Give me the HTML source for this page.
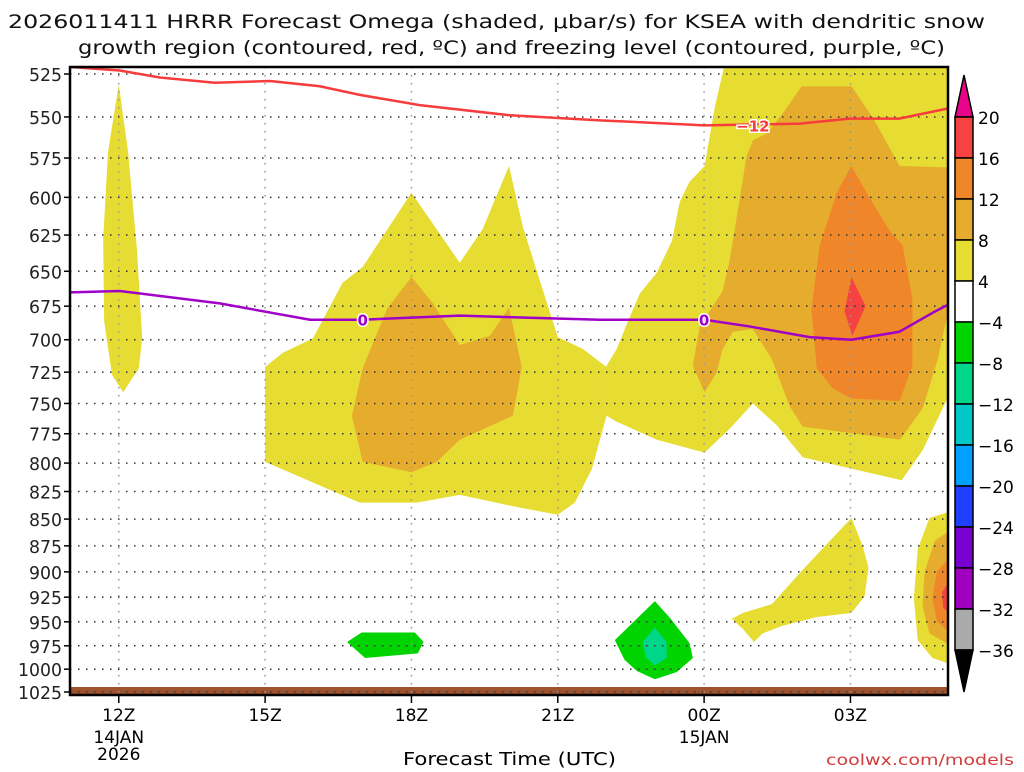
<!DOCTYPE html>
<html><head><meta charset="utf-8"><style>
body{margin:0;background:#fff;width:1024px;height:768px;overflow:hidden;font-family:"DejaVu Sans",sans-serif}
svg text{font-family:"DejaVu Sans","Liberation Sans",sans-serif}
</style></head><body>
<svg id="chart" width="1024" height="768" xmlns="http://www.w3.org/2000/svg">
<text x="8" y="28" font-size="19" textLength="977" lengthAdjust="spacingAndGlyphs" fill="#111">2026011411 HRRR Forecast Omega (shaded, μbar/s) for KSEA with dendritic snow</text>
<text x="78" y="54" font-size="19" textLength="867" lengthAdjust="spacingAndGlyphs" fill="#111">growth region (contoured, red, ºC) and freezing level (contoured, purple, ºC)</text>
<text x="403" y="765" font-size="18" textLength="213" lengthAdjust="spacingAndGlyphs">Forecast Time (UTC)</text>
<text x="826" y="765" font-size="15" fill="#d23c3c" textLength="188" lengthAdjust="spacingAndGlyphs">coolwx.com/models</text>
</svg>
<script>
const pTicks=[525,550,575,600,625,650,675,700,725,750,775,800,825,850,875,900,925,950,975,1000,1025];
const hTicks=[12,15,18,21,24,27];
const hLabels=["12Z","15Z","18Z","21Z","00Z","03Z"];
const cbLevels=["20","16","12","8","4","−4","−8","−12","−16","−20","−24","−28","−32","−36"];
const cbColors=["#f74242","#f0862a","#e5ac2d","#e6dc32","#ffffff","#00d400","#00d68a","#00c8c8","#00a0ff","#2040ff","#7800d0","#a000c0","#aaaaaa"];
const yellowAreas=[
 [[12.0,531],[12.19,571],[12.37,634],[12.48,699],[12.41,722],[12.09,741],[11.86,727],[11.70,686],[11.68,628],[11.78,571]],
 [[15.0,721],[15.36,710],[15.98,699],[16.59,658],[17.0,647],[18.0,597],[18.99,644],[19.46,621],[20.0,580],[20.28,619],[20.69,663],[21.0,698],[21.51,707],[22.0,721],[22.0,760],[21.7,805],[21.35,835],[21.0,846],[20.16,839],[18.99,828],[18.11,835],[16.94,835],[15.98,817],[15.0,799]],
 [[24.46,515],[29.2,515],[29,745],[28.48,789],[28.05,815],[27.04,805],[26.02,795],[25.49,768],[25.0,750],[24.52,771],[24.01,791],[23.03,780],[22.21,765],[22.0,760],[22.0,720],[22.21,707],[22.43,687],[22.68,666],[23.03,651],[23.34,629],[23.5,603],[23.7,590],[24.01,580],[24.22,544]],
 [[24.57,947],[24.79,941],[25.39,932],[26.02,898],[27.02,849],[27.25,875],[27.37,896],[27.29,924],[27.02,941],[26.31,945],[25.61,954],[25.2,962],[25.02,971],[24.79,957]],
 [[29.2,841],[28.62,849],[28.38,878],[28.30,926],[28.38,969],[28.68,988],[29.2,997]]
];
const orangeAreas=[
 [[18.0,654],[18.44,673],[18.99,704],[19.61,697],[20.0,676],[20.26,721],[20.08,760],[18.99,780],[18.52,799],[18.0,808],[17.0,799],[16.78,760],[17.0,722],[17.5,677]],
 [[26.0,532],[27.02,532],[27.45,550],[28.01,580],[29.2,581],[29.2,647],[28.79,715],[28.48,754],[28.01,780],[26.02,769],[25.75,752],[25.39,715],[25.0,692],[24.59,694],[24.38,707],[24.26,725],[24.01,741],[23.77,720],[23.91,690],[24.38,664],[24.52,643],[24.73,601],[24.87,574],[25.0,564],[25.28,560],[25.61,548]],
 [[29.2,856],[28.73,870],[28.52,900],[28.48,934],[28.62,962],[29.2,979]]
];
const darkOrangeAreas=[
 [[27.02,580],[27.33,597],[27.8,622],[28.07,632],[28.27,670],[28.27,720],[28.01,748],[27.02,746],[26.64,738],[26.31,722],[26.2,677],[26.37,632],[26.72,597]],
 [[29.2,877],[28.77,900],[28.68,926],[28.77,949],[29.2,969]]
];
const redAreas=[
 [[27.02,654],[27.31,675],[27.04,697],[26.88,679]],
 [[29.2,896],[28.88,920],[28.9,936],[29.2,946]]
];
const greenAreas=[
 [[22.17,969],[22.99,929],[23.3,946],[23.7,972],[23.77,988],[23.44,1003],[22.99,1011],[22.62,1002],[22.37,990]],
 [[16.68,971],[16.98,961],[18.07,961],[18.25,971],[18.13,983],[17.05,988]]
];
const tealAreas=[[[22.99,956],[23.23,971],[23.23,988],[22.99,996],[22.8,987],[22.74,971]]];
const dgzHours=[11,12.02,12.84,13.97,15.10,16.12,16.94,18.17,20.02,21.86,24.01,25.96,26.98,28.0,29];
const dgzPres=[521,523,527,530,529,532,537,543,549,552,555,554,551,551,545];
const frzHours=[11,12.02,14.07,15.92,16.98,18.99,21.86,24.01,24.93,26.16,27.02,28.0,28.73,29];
const frzPres=[665,664,673,685,685,682,685,685,690,698,700,694,679,674];

const L=70,R=948,T=67,B=695;
const xS=h=>L+(h-11)*(R-L)/18;
const yS=p=>74+923.7*Math.log(p/525);
const NS='http://www.w3.org/2000/svg';
const svg=document.getElementById('chart');
function mk(tag,attrs,parent){const e=document.createElementNS(NS,tag);for(const k in attrs)e.setAttribute(k,attrs[k]);(parent||svg).appendChild(e);return e;}
const defs=mk('defs',{});
const cp=mk('clipPath',{id:'plotclip'},defs);
mk('rect',{x:L,y:T,width:R-L,height:B-T},cp);
const plot=mk('g',{'clip-path':'url(#plotclip)'});


function area(list,color,name){list.forEach((poly,i)=>{
 const el=mk('polygon',{points:poly.map(q=>xS(q[0])+','+yS(q[1])).join(' '),fill:color},plot);
 
 
});}
area(yellowAreas,'#e6dc32','omega-4-8');
area(orangeAreas,'#e5ac2d','omega-8-12');
area(darkOrangeAreas,'#f0862a','omega-12-16');
area(redAreas,'#f74242','omega-16-20');
area(greenAreas,'#00d400','omega-neg4-8');
area(tealAreas,'#00d68a','omega-neg8-12');
const gr=mk('rect',{x:L,y:687,width:R-L,height:B-687,fill:'#a0522d'},plot);


pTicks.forEach(p=>{const g=mk('line',{x1:L,x2:R,y1:yS(p),y2:yS(p),stroke:'#333','stroke-width':1.5,'stroke-dasharray':'1.5 6.5'},plot);
 });
hTicks.forEach(h=>{const g=mk('line',{x1:xS(h),x2:xS(h),y1:T,y2:B,stroke:'#999','stroke-width':1.5,'stroke-dasharray':'1.5 6.5'},plot);
 });
function line(hs,ps,color,name){const el=mk('polyline',{points:hs.map((h,i)=>xS(h)+','+yS(ps[i])).join(' '),fill:'none',stroke:color,'stroke-width':2.5},plot);
 }
line(dgzHours,dgzPres,'#f63c3c','dgz-line');
line(frzHours,frzPres,'#a000c8','freezing-line');
function lab(h,p,t,color,name){
 const e=mk('text',{x:xS(h),y:yS(p)+6,'font-size':15,'font-weight':'bold',fill:color,'text-anchor':'middle',stroke:'#fff','stroke-width':3,'paint-order':'stroke'},plot);e.textContent=t;
 }
lab(25.0,555,'−12','#f63c3c','dgz-label');
lab(17.0,685,'0','#a000c8','freezing-label-1');
lab(24.0,685,'0','#a000c8','freezing-label-2');
const fr=mk('rect',{x:L,y:T,width:R-L,height:B-T,fill:'none',stroke:'#000','stroke-width':2.5});

pTicks.forEach(p=>{mk('line',{x1:L-6,x2:L,y1:yS(p),y2:yS(p),stroke:'#000','stroke-width':1.5});
 const s=String(p);
 const t=mk('text',{x:L-8,y:yS(p)+7,'font-size':18,'text-anchor':'end',fill:'#222',textLength:s.length*11,lengthAdjust:'spacingAndGlyphs'});t.textContent=s;
 });
hTicks.forEach((h,i)=>{mk('line',{x1:xS(h),x2:xS(h),y1:B,y2:B+8,stroke:'#000','stroke-width':1.5});
 const t=mk('text',{x:xS(h),y:B+26,'font-size':17,'text-anchor':'middle'});t.textContent=hLabels[i];
 });
[['14JAN',12,743],['2026',12,760],['15JAN',24,743]].forEach(d=>{const t=mk('text',{x:xS(d[1]),y:d[2],'font-size':17,'text-anchor':'middle'});t.textContent=d[0];
 });
const cb=mk('g',{});
const cx=955,cw=18,c0=117,ch=41;
mk('polygon',{points:`${cx},${c0} ${cx+cw},${c0} ${cx+cw/2},${c0-42}`,fill:'#e8058a',stroke:'#000','stroke-width':1.5},cb);
cbColors.forEach((c,i)=>{const r=mk('rect',{x:cx,y:c0+i*ch,width:cw,height:ch,fill:c,stroke:'#000','stroke-width':1.5},cb);
 });
const cend=c0+cbColors.length*ch;
mk('polygon',{points:`${cx},${cend} ${cx+cw},${cend} ${cx+cw/2},${cend+42}`,fill:'#000',stroke:'#000','stroke-width':1.5},cb);
cbLevels.forEach((s,i)=>{const t=mk('text',{x:cx+cw+5,y:c0+i*ch+7,'font-size':17},cb);t.textContent=s;
 });
</script>
</body></html>
